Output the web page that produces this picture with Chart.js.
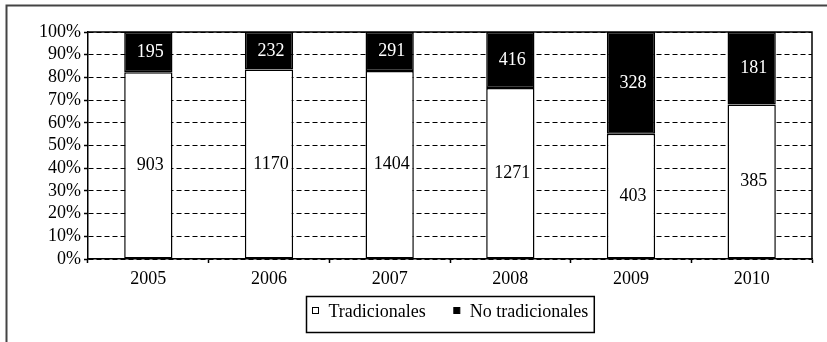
<!DOCTYPE html>
<html>
<head>
<meta charset="utf-8">
<script src="https://cdn.jsdelivr.net/npm/chart.js@4.4.1/dist/chart.umd.min.js"></script>
<style>
    html, body { margin: 0; padding: 0; background: #ffffff; }
</style>
</head>
<body>
<canvas id="graph" width="827" height="342"></canvas>
<script>
// Values (counts per year)
const years = ['2005', '2006', '2007', '2008', '2009', '2010']
const tradicionales = [903, 1170, 1404, 1271, 403, 385]
const noTradicionales = [195, 232, 291, 416, 328, 181]
const seriesNames = ['Tradicionales', 'No tradicionales']

const FONT = '"Liberation Serif", "Times New Roman", serif'

// 100% stacked: each segment is its share of the yearly total
const share = (part, other) => part.map((v, i) => v / (v + other[i]) * 100)

/**
 * Outer frame, plot frame, value labels and the boxed legend
 */
const decorations =
{
    id: 'decorations',
    beforeDraw(chart)
    {
        const ctx = chart.ctx
        ctx.save()
        ctx.fillStyle = '#ffffff'
        ctx.fillRect(0, 0, chart.width, chart.height)
        // outer border (right/bottom edges fall outside the picture)
        ctx.strokeStyle = '#444444'
        ctx.lineWidth = 2
        ctx.strokeRect(6.5, 5.5, chart.width + 20, chart.height + 20)
        ctx.restore()
    },
    afterDatasetsDraw(chart)
    {
        const ctx = chart.ctx
        const area = chart.chartArea
        ctx.save()

        // top and right edges of the plot area
        ctx.strokeStyle = '#000000'
        ctx.lineWidth = 1.5
        ctx.beginPath()
        ctx.moveTo(Math.round(area.left), Math.round(area.top))
        ctx.lineTo(Math.round(area.right), Math.round(area.top))
        ctx.lineTo(Math.round(area.right), Math.round(area.bottom))
        ctx.stroke()

        // counts in the middle of each segment
        ctx.font = '18px ' + FONT
        ctx.textAlign = 'center'
        ctx.textBaseline = 'middle'
        chart.data.datasets.forEach((ds, i) =>
        {
            chart.getDatasetMeta(i).data.forEach((bar, j) =>
            {
                const {x, y, base} = bar.getProps(['x', 'y', 'base'], true)
                ctx.fillStyle = ds.textColor
                ctx.fillText(String(ds.counts[j]), x + 2, (y + base) / 2)
            })
        })
        ctx.restore()
    },
    afterDraw(chart)
    {
        const ctx = chart.ctx
        const area = chart.chartArea
        const marker = 6
        const gap = 10
        const itemGap = 28
        const pad = 6
        const boxHeight = 36

        ctx.save()
        ctx.font = '18px ' + FONT
        const items = chart.data.datasets.map(ds => (
        {
            ds,
            width: marker + gap + ctx.measureText(ds.label).width
        }))
        const inner = items.reduce((s, it) => s + it.width, 0) + itemGap * (items.length - 1)
        const boxWidth = inner + pad * 2
        const left = Math.round((area.left + area.right) / 2 - boxWidth / 2) + 0.5
        const top = Math.round(chart.height - 46) + 0.5

        ctx.strokeStyle = '#000000'
        ctx.lineWidth = 1.5
        ctx.strokeRect(left, top, boxWidth, boxHeight)

        let x = left + pad
        ctx.textBaseline = 'alphabetic'
        ctx.textAlign = 'left'
        ctx.lineWidth = 1
        items.forEach(it =>
        {
            ctx.fillStyle = it.ds.backgroundColor
            ctx.fillRect(x, top + 11, marker, marker)
            ctx.strokeStyle = '#000000'
            ctx.strokeRect(x, top + 11, marker, marker)
            ctx.fillStyle = '#000000'
            ctx.fillText(it.ds.label, x + marker + gap, top + 20.5)
            x += it.width + itemGap
        })
        ctx.restore()
    }
}

new Chart(document.querySelector('#graph'),
{
    type: 'bar',
    data:
    {
        labels: years,
        datasets:
        [
            {
                label: seriesNames[0],
                data: share(tradicionales, noTradicionales),
                counts: tradicionales,
                textColor: '#000000',
                backgroundColor: '#ffffff',
                borderColor: '#000000',
                borderWidth: 1.5,
                borderSkipped: false
            },
            {
                label: seriesNames[1],
                data: share(noTradicionales, tradicionales),
                counts: noTradicionales,
                textColor: '#ffffff',
                backgroundColor: '#000000',
                borderColor: '#000000',
                borderWidth: 1.5,
                borderSkipped: false
            }
        ]
    },
    options:
    {
        responsive: false,
        animation: false,
        devicePixelRatio: 1,
        layout: {padding: {left: 0, right: 15, top: 32, bottom: 46}},
        datasets: {bar: {barPercentage: 0.4, categoryPercentage: 1}},
        plugins:
        {
            legend: {display: false},
            tooltip: {enabled: false}
        },
        scales:
        {
            x:
            {
                stacked: true,
                afterFit: scale => { scale.height = 37 },
                grid:
                {
                    offset: true,
                    drawOnChartArea: false,
                    drawTicks: true,
                    tickLength: 4,
                    tickWidth: 1.5,
                    color: '#000000'
                },
                border: {display: true, color: '#000000', width: 1.5},
                ticks:
                {
                    color: '#000000',
                    padding: 5,
                    font: {family: FONT, size: 18}
                }
            },
            y:
            {
                stacked: true,
                min: 0,
                max: 100,
                afterFit: scale => { scale.width = 88 },
                grid:
                {
                    color: '#000000',
                    lineWidth: 1,
                    drawTicks: true,
                    tickLength: 4,
                    tickWidth: 1.5,
                    tickBorderDash: []
                },
                border: {display: true, color: '#000000', width: 1.5, dash: [5, 3]},
                ticks:
                {
                    stepSize: 10,
                    autoSkip: false,
                    color: '#000000',
                    padding: 3,
                    font: {family: FONT, size: 18},
                    callback: v => v + '%'
                }
            }
        }
    },
    plugins: [decorations]
})
</script>
</body>
</html>
